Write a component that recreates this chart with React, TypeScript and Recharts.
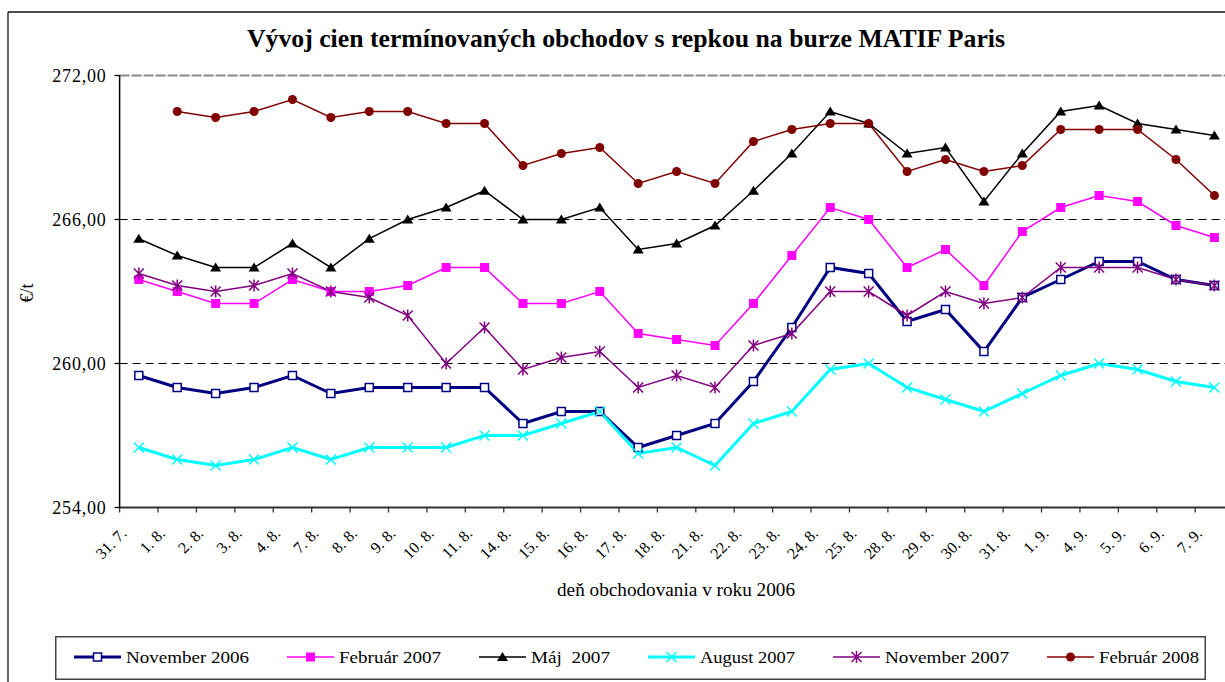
import React from 'react';
import { LineChart, Line, XAxis, YAxis, ReferenceLine, Legend } from 'recharts';

const FONT = '"Liberation Serif", "Times New Roman", serif';

const days = [
  '31. 7.', '1. 8.', '2. 8.', '3. 8.', '4. 8.', '7. 8.', '8. 8.', '9. 8.', '10. 8.', '11. 8.',
  '14. 8.', '15. 8.', '16. 8.', '17. 8.', '18. 8.', '21. 8.', '22. 8.', '23. 8.', '24. 8.', '25. 8.',
  '28. 8.', '29. 8.', '30. 8.', '31. 8.', '1. 9.', '4. 9.', '5. 9.', '6. 9.', '7. 9.',
];

const nov2006 = [259.5, 259.0, 258.75, 259.0, 259.5, 258.75, 259.0, 259.0, 259.0, 259.0, 257.5, 258.0, 258.0, 256.5, 257.0, 257.5, 259.25, 261.5, 264.0, 263.75, 261.75, 262.25, 260.5, 262.75, 263.5, 264.25, 264.25, 263.5, 263.25];
const feb2007 = [263.5, 263.0, 262.5, 262.5, 263.5, 263.0, 263.0, 263.25, 264.0, 264.0, 262.5, 262.5, 263.0, 261.25, 261.0, 260.75, 262.5, 264.5, 266.5, 266.0, 264.0, 264.75, 263.25, 265.5, 266.5, 267.0, 266.75, 265.75, 265.25];
const maj2007 = [265.2, 264.5, 264.0, 264.0, 265.0, 264.0, 265.2, 266.0, 266.5, 267.2, 266.0, 266.0, 266.5, 264.75, 265.0, 265.75, 267.2, 268.75, 270.5, 270.0, 268.75, 269.0, 266.75, 268.75, 270.5, 270.75, 270.0, 269.75, 269.5];
const aug2007 = [256.5, 256.0, 255.75, 256.0, 256.5, 256.0, 256.5, 256.5, 256.5, 257.0, 257.0, 257.5, 258.0, 256.25, 256.5, 255.75, 257.5, 258.0, 259.75, 260.0, 259.0, 258.5, 258.0, 258.75, 259.5, 260.0, 259.75, 259.25, 259.0];
const nov2007 = [263.75, 263.25, 263.0, 263.25, 263.75, 263.0, 262.75, 262.0, 260.0, 261.5, 259.75, 260.25, 260.5, 259.0, 259.5, 259.0, 260.75, 261.25, 263.0, 263.0, 262.0, 263.0, 262.5, 262.75, 264.0, 264.0, 264.0, 263.5, 263.25];
const feb2008 = [null, 270.5, 270.25, 270.5, 271.0, 270.25, 270.5, 270.5, 270.0, 270.0, 268.25, 268.75, 269.0, 267.5, 268.0, 267.5, 269.25, 269.75, 270.0, 270.0, 268.0, 268.5, 268.0, 268.25, 269.75, 269.75, 269.75, 268.5, 267.0];

const yTicks = [254, 260, 266, 272];
const gridLines = [260, 266];

const series = [
  { key: 'nov2006', name: 'November 2006', values: nov2006, color: '#000080', width: 3, shape: 'hollowSquare' },
  { key: 'feb2007', name: 'Február 2007', values: feb2007, color: '#ff00ff', width: 1.5, shape: 'square' },
  { key: 'maj2007', name: 'Máj  2007', values: maj2007, color: '#000000', width: 1.5, shape: 'triangle' },
  { key: 'aug2007', name: 'August 2007', values: aug2007, color: '#00ffff', width: 3, shape: 'cross' },
  { key: 'nov2007', name: 'November 2007', values: nov2007, color: '#800080', width: 1.5, shape: 'star' },
  { key: 'feb2008', name: 'Február 2008', values: feb2008, color: '#800000', width: 1.5, shape: 'circle' },
];

const data = days.map((day, i) => {
  const row: Record<string, any> = { i, day };
  series.forEach(s => { row[s.key] = s.values[i]; });
  return row;
});

// tick marks sit between the days
const boundaries = [...days.map((_, i) => i - 0.5), days.length - 0.5];

function Marker({ shape, color, cx, cy }: { shape: string; color: string; cx: number; cy: number }) {
  switch (shape) {
    case 'hollowSquare':
      return <rect x={cx - 4} y={cy - 4} width={8} height={8} fill="#fff" stroke={color} strokeWidth={1.5} />;
    case 'square':
      return <rect x={cx - 4.5} y={cy - 4.5} width={9} height={9} fill={color} />;
    case 'triangle':
      return <path d={`M${cx},${cy - 5} L${cx + 5.5},${cy + 4} L${cx - 5.5},${cy + 4} Z`} fill={color} />;
    case 'cross':
      return <path d={`M${cx - 5},${cy - 5} L${cx + 5},${cy + 5} M${cx + 5},${cy - 5} L${cx - 5},${cy + 5}`} stroke={color} strokeWidth={1.5} />;
    case 'star':
      return <path d={`M${cx - 5},${cy - 5} L${cx + 5},${cy + 5} M${cx + 5},${cy - 5} L${cx - 5},${cy + 5} M${cx},${cy - 6} L${cx},${cy + 6}`} stroke={color} strokeWidth={1.5} />;
    default:
      return <circle cx={cx} cy={cy} r={4.5} fill={color} />;
  }
}

const XTick = ({ x, y, payload }: any) => {
  const k = Math.round(payload.value + 0.5);
  if (k < 0 || k >= days.length) return <g />;
  const tx = x + 8;
  const ty = y + 22;
  return (
    <text x={tx} y={ty} textAnchor="end" transform={`rotate(-45 ${tx} ${ty})`} fontSize={16} fontFamily={FONT} fill="#000">
      {days[k]}
    </text>
  );
};

const YTick = ({ x, y, payload }: any) => (
  <text x={x} y={y + 6} textAnchor="end" fontSize={18} fontFamily={FONT} fill="#000" letterSpacing={0.8}>
    {payload.value.toFixed(2).replace('.', ',')}
  </text>
);

const legendTextWidths = [123, 102, 79, 95, 124, 100];

const LegendBox = () => {
  let x = 19;
  return (
    <svg width={1151} height={44} style={{ display: 'block' }}>
      <rect x={0.75} y={0.75} width={1149.5} height={42.5} fill="#fff" stroke="#444" strokeWidth={1.5} />
      {series.map((s, i) => {
        const x0 = x;
        x += 47 + 5 + legendTextWidths[i] + 38;
        return (
          <g key={s.key}>
            <line x1={x0} y1={21} x2={x0 + 47} y2={21} stroke={s.color} strokeWidth={s.width} />
            <Marker shape={s.shape} color={s.color} cx={x0 + 23.5} cy={21} />
            <text x={x0 + 52} y={27} fontSize={17} fontFamily={FONT} fill="#000" textLength={legendTextWidths[i]} lengthAdjust="spacingAndGlyphs" style={{ whiteSpace: 'pre' }}>
              {s.name}
            </text>
          </g>
        );
      })}
    </svg>
  );
};

export default function App() {
  return (
    <div style={{ position: 'fixed', left: 0, top: 0, width: 1225, height: 682, overflow: 'hidden', background: '#fff' }}>
      <svg width={1225} height={682} style={{ position: 'absolute', left: 0, top: 0 }}>
        <line x1={8} y1={12} x2={1225} y2={12} stroke="#111" strokeWidth={1.3} />
        <line x1={8} y1={12} x2={8} y2={682} stroke="#111" strokeWidth={1.3} />
        <text x={247} y={47} fontSize={26} fontWeight="bold" fontFamily={FONT} fill="#000" textLength={758} lengthAdjust="spacingAndGlyphs">
          Vývoj cien termínovaných obchodov s repkou na burze MATIF Paris
        </text>
        <text x={33} y={293} transform="rotate(-90 33 293)" textAnchor="middle" fontSize={18} fontFamily={FONT} fill="#000">
          €/t
        </text>
        <text x={676} y={596} textAnchor="middle" fontSize={18} fontFamily={FONT} fill="#000" textLength={238} lengthAdjust="spacingAndGlyphs">
          deň obchodovania v roku 2006
        </text>
      </svg>
      <div style={{ position: 'absolute', left: 0, top: 0 }}>
        <LineChart width={1240} height={682} data={data} margin={{ top: 75.5, right: 6.4, left: 0, bottom: 114.5 }}>
          <ReferenceLine y={272} stroke="#8c8c8c" strokeWidth={2} strokeDasharray="10 2" />
          {gridLines.map(v => (
            <ReferenceLine key={v} y={v} stroke="#000" strokeWidth={1} strokeDasharray="8 5" />
          ))}
          <XAxis
            dataKey="i"
            type="number"
            domain={[-0.5, days.length - 0.5]}
            ticks={boundaries}
            interval={0}
            height={60}
            stroke="#333"
            axisLine={{ stroke: '#333', strokeWidth: 2 }}
            tickLine={{ stroke: '#333', strokeWidth: 1.3 }}
            tickSize={5}
            tickMargin={0}
            tick={<XTick />}
          />
          <YAxis
            type="number"
            domain={[254, 272]}
            ticks={yTicks}
            interval={0}
            width={119.6}
            stroke="#000"
            axisLine={{ stroke: '#000', strokeWidth: 1.5 }}
            tickLine={{ stroke: '#000', strokeWidth: 1.3 }}
            tickSize={5}
            tickMargin={8}
            tick={<YTick />}
          />
          {series.map(s => (
            <Line
              key={s.key}
              dataKey={s.key}
              name={s.name}
              type="linear"
              stroke={s.color}
              strokeWidth={s.width}
              isAnimationActive={false}
              connectNulls={false}
              activeDot={false}
              dot={(p: any) =>
                p.cy == null || p.value == null ? (
                  <g key={`${s.key}-${p.index}`} />
                ) : (
                  <Marker key={`${s.key}-${p.index}`} shape={s.shape} color={s.color} cx={p.cx} cy={p.cy} />
                )
              }
            />
          ))}
          <Legend
            layout="horizontal"
            verticalAlign="middle"
            align="center"
            content={() => <LegendBox />}
            wrapperStyle={{ left: 55, top: 636, width: 1151, height: 44 }}
          />
        </LineChart>
      </div>
    </div>
  );
}
